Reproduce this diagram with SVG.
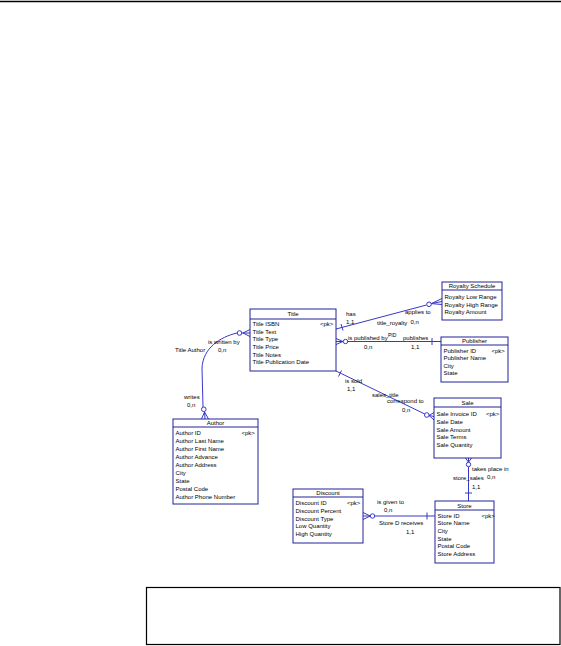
<svg xmlns="http://www.w3.org/2000/svg" width="561" height="646" viewBox="0 0 561 646">
<style>
text{font-family:"Liberation Sans",Arial,sans-serif;font-size:6px;fill:#000}
.hd{text-anchor:middle}
.ent{fill:#fff;stroke:#22229a;stroke-width:1}
.sep{stroke:#22229a;stroke-width:1}
.ln{fill:none;stroke:#3838c8;stroke-width:1}
.cr{fill:#fff;stroke:#3838c8;stroke-width:1}
</style>
<rect width="561" height="646" fill="#fff"/>
<line x1="0" y1="1.5" x2="561" y2="1.5" stroke="#000" stroke-width="1.4"/>
<rect x="146.5" y="587.5" width="413.5" height="57" fill="none" stroke="#000" stroke-width="1.2"/>

<g id="connectors">
  <!-- Title - Author -->
  <path class="ln" d="M250,329.5 L243,333 L250,336.5 M250,333 L237,333 C220,337 203,348 202,368 L203,407"/>
  <circle class="cr" cx="239.5" cy="333" r="2.3"/>
  <path class="ln" d="M201.5,419 L204.5,412 L208.5,419 M205,419 L204.5,411.5"/>
  <circle class="cr" cx="203.8" cy="409.3" r="2.3"/>
  <!-- Title - Royalty Schedule -->
  <path class="ln" d="M336,329 L426.5,305"/>
  <path class="ln" d="M341,324 L343,330.5"/>
  <circle class="cr" cx="429" cy="304.3" r="2.3"/>
  <path class="ln" d="M442,298.5 L431.3,303.6 L442,304.5 M442,301.5 L431.3,303.6"/>
  <!-- Title - Publisher -->
  <path class="ln" d="M336,338.5 L343,341.5 L336,344.5 M336,341.5 L343.3,341.5"/>
  <circle class="cr" cx="345.5" cy="341.5" r="2.2"/>
  <path class="ln" d="M347.7,341.5 L441,341.5 M432,338 L432,345"/>
  <!-- Title - Sale -->
  <path class="ln" d="M336,371 L424.8,414"/>
  <path class="ln" d="M341.5,370.5 L338.5,376.5"/>
  <circle class="cr" cx="426.8" cy="415" r="2.3"/>
  <path class="ln" d="M434,412.5 L429,415.5 L434,420 M434,416.5 L429,415.5"/>
  <!-- Sale - Store -->
  <path class="ln" d="M465.5,458 L468.5,462.3 L471.5,458 M468.5,458 L468.5,462.3"/>
  <circle class="cr" cx="468.5" cy="464.5" r="2.2"/>
  <path class="ln" d="M468.5,466.7 L468.5,501 M465,493 L472,493"/>
  <!-- Discount - Store -->
  <path class="ln" d="M363,512.5 L370.3,516 L363,519.5 M363,516 L370.3,516"/>
  <circle class="cr" cx="372.5" cy="516" r="2.2"/>
  <path class="ln" d="M374.7,516 L435,516 M427,512.5 L427,519.5"/>
</g>

<g id="labels">
  <text x="208" y="343.5">is written by</text>
  <text x="218" y="352">0,n</text>
  <text x="175" y="352">Title Author</text>
  <text x="184" y="398.5">writes</text>
  <text x="187" y="407">0,n</text>
  <text x="346" y="316">has</text>
  <text x="346" y="324">1,1</text>
  <text x="405" y="313.5">applies to</text>
  <text x="377" y="325">title_royalty</text>
  <text x="410.5" y="323.5">0,n</text>
  <text x="348" y="340.3">is published by</text>
  <text x="388" y="336.5" style="font-size:5px">PID</text>
  <text x="403" y="340.3">publishes</text>
  <text x="364" y="349">0,n</text>
  <text x="411" y="349">1,1</text>
  <text x="345" y="383">is sold</text>
  <text x="347" y="391">1,1</text>
  <text x="372" y="397">sales_title</text>
  <text x="387" y="403">correspond to</text>
  <text x="402" y="412">0,n</text>
  <text x="472" y="471">takes place in</text>
  <text x="487" y="479">0,n</text>
  <text x="453" y="480">store_sales</text>
  <text x="472" y="489">1,1</text>
  <text x="377" y="503.7">is given to</text>
  <text x="384" y="512">0,n</text>
  <text x="379" y="525.3">Store D receives</text>
  <text x="406" y="533.7">1,1</text>
</g>

<g id="Title">
  <rect class="ent" x="250" y="309" width="86" height="62"/>
  <line class="sep" x1="250" y1="319" x2="336" y2="319"/>
  <text class="hd" x="293" y="316.3">Title</text>
  <text x="252.5" y="326">Title ISBN</text><text x="320" y="326">&lt;pk&gt;</text>
  <text x="252.5" y="333.7">Title Text</text>
  <text x="252.5" y="341.3">Title Type</text>
  <text x="252.5" y="349">Title Price</text>
  <text x="252.5" y="356.7">Title Notes</text>
  <text x="252.5" y="364.3">Title Publication Date</text>
</g>

<g id="RoyaltySchedule">
  <rect class="ent" x="442" y="282" width="60" height="38"/>
  <line class="sep" x1="442" y1="290" x2="502" y2="290"/>
  <text class="hd" x="472" y="288">Royalty Schedule</text>
  <text x="444.5" y="299">Royalty Low Range</text>
  <text x="444.5" y="306.7">Royalty High Range</text>
  <text x="444.5" y="314.3">Royalty Amount</text>
</g>

<g id="Publisher">
  <rect class="ent" x="441" y="337" width="67" height="45"/>
  <line class="sep" x1="441" y1="345" x2="508" y2="345"/>
  <text class="hd" x="474.5" y="343">Publisher</text>
  <text x="443.5" y="352.7">Publisher ID</text><text x="491.5" y="352.7">&lt;pk&gt;</text>
  <text x="443.5" y="360.3">Publisher Name</text>
  <text x="443.5" y="368">City</text>
  <text x="443.5" y="375.3">State</text>
</g>

<g id="Sale">
  <rect class="ent" x="434" y="398" width="67" height="60"/>
  <line class="sep" x1="434" y1="407" x2="501" y2="407"/>
  <text class="hd" x="467.5" y="405">Sale</text>
  <text x="436.5" y="416.3">Sale Invoice ID</text><text x="486" y="416.3">&lt;pk&gt;</text>
  <text x="436.5" y="424">Sale Date</text>
  <text x="436.5" y="431.7">Sale Amount</text>
  <text x="436.5" y="439.3">Sale Terms</text>
  <text x="436.5" y="447">Sale Quantity</text>
</g>

<g id="Store">
  <rect class="ent" x="435" y="501" width="59" height="62"/>
  <line class="sep" x1="435" y1="510" x2="494" y2="510"/>
  <text class="hd" x="464.5" y="508">Store</text>
  <text x="437.5" y="517.7">Store ID</text><text x="481.5" y="517.7">&lt;pk&gt;</text>
  <text x="437.5" y="525.3">Store Name</text>
  <text x="437.5" y="533">City</text>
  <text x="437.5" y="540.7">State</text>
  <text x="437.5" y="548.3">Postal Code</text>
  <text x="437.5" y="556">Store Address</text>
</g>

<g id="Author">
  <rect class="ent" x="173" y="419" width="85" height="85"/>
  <line class="sep" x1="173" y1="427" x2="258" y2="427"/>
  <text class="hd" x="215.5" y="425">Author</text>
  <text x="175.5" y="435.3">Author ID</text><text x="241.5" y="435.3">&lt;pk&gt;</text>
  <text x="175.5" y="443.2">Author Last Name</text>
  <text x="175.5" y="451.1">Author First Name</text>
  <text x="175.5" y="459">Author Advance</text>
  <text x="175.5" y="466.9">Author Address</text>
  <text x="175.5" y="474.8">City</text>
  <text x="175.5" y="482.7">State</text>
  <text x="175.5" y="490.6">Postal Code</text>
  <text x="175.5" y="498.5">Author Phone Number</text>
</g>

<g id="Discount">
  <rect class="ent" x="293" y="489" width="70" height="54"/>
  <line class="sep" x1="293" y1="497" x2="363" y2="497"/>
  <text class="hd" x="328" y="495">Discount</text>
  <text x="295.5" y="505.3">Discount ID</text><text x="347" y="505.3">&lt;pk&gt;</text>
  <text x="295.5" y="513">Discount Percent</text>
  <text x="295.5" y="520.7">Discount Type</text>
  <text x="295.5" y="528.3">Low Quantity</text>
  <text x="295.5" y="536">High Quantity</text>
</g>
</svg>
